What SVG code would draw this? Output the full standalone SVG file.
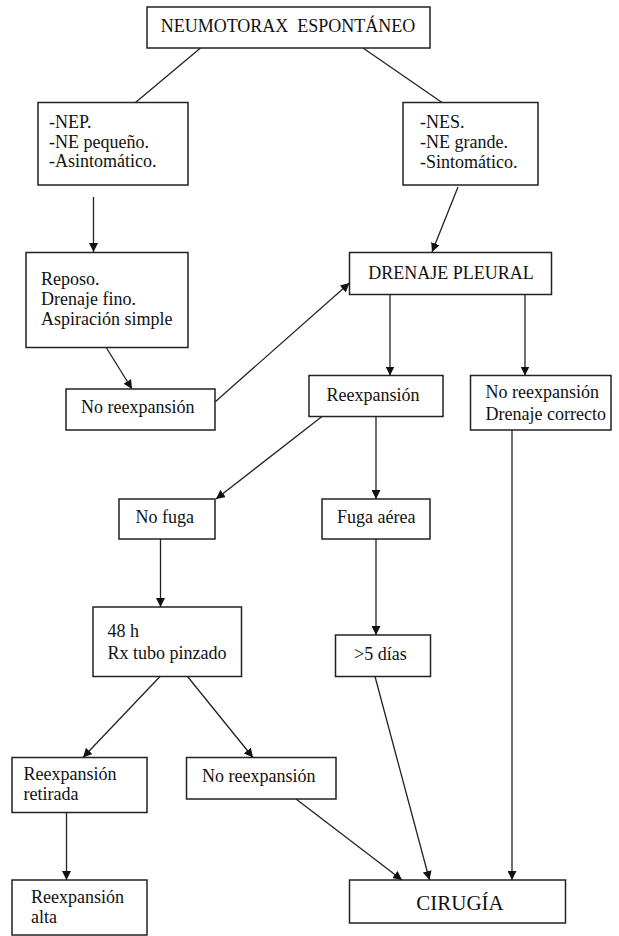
<svg xmlns="http://www.w3.org/2000/svg" width="619" height="936" viewBox="0 0 619 936">
<style>
.box{fill:#fff;stroke:#222;stroke-width:1.5}
.t{font-family:"Liberation Serif","Times New Roman",serif;font-size:18px;fill:#111}
.m{text-anchor:middle}
.c{fill:none;stroke:#222;stroke-width:1.3}
</style>
<defs>
<marker id="ah" viewBox="0 0 10 10" refX="10" refY="5" markerWidth="9" markerHeight="9" markerUnits="userSpaceOnUse" orient="auto">
<path d="M0,0 L10,5 L0,10 z" fill="#111"/>
</marker>
</defs>
<rect width="619" height="936" fill="#fff"/>
<g id="connectors">
<line class="c" x1="200.5" y1="48" x2="135.5" y2="102.5"/>
<line class="c" x1="363" y1="48" x2="442" y2="102.5"/>
<line class="c" x1="93.5" y1="197" x2="93.5" y2="252" marker-end="url(#ah)"/>
<line class="c" x1="458" y1="187" x2="432" y2="252" marker-end="url(#ah)"/>
<line class="c" x1="106.5" y1="348" x2="132" y2="389" marker-end="url(#ah)"/>
<line class="c" x1="215" y1="402" x2="349.5" y2="283" marker-end="url(#ah)"/>
<line class="c" x1="390" y1="294.5" x2="390" y2="375.5" marker-end="url(#ah)"/>
<line class="c" x1="525" y1="294.5" x2="525" y2="375.5" marker-end="url(#ah)"/>
<line class="c" x1="322" y1="416.5" x2="216" y2="499" marker-end="url(#ah)"/>
<line class="c" x1="376" y1="416.5" x2="376" y2="499" marker-end="url(#ah)"/>
<line class="c" x1="160.5" y1="539" x2="160.5" y2="607" marker-end="url(#ah)"/>
<line class="c" x1="376" y1="539" x2="376" y2="635" marker-end="url(#ah)"/>
<line class="c" x1="512" y1="430" x2="512" y2="880" marker-end="url(#ah)"/>
<line class="c" x1="160" y1="676.5" x2="83" y2="757.5" marker-end="url(#ah)"/>
<line class="c" x1="187.5" y1="676.5" x2="253" y2="757.5" marker-end="url(#ah)"/>
<line class="c" x1="375" y1="676.5" x2="429.5" y2="880" marker-end="url(#ah)"/>
<line class="c" x1="296" y1="799" x2="402" y2="880" marker-end="url(#ah)"/>
<line class="c" x1="66.5" y1="812.5" x2="66.5" y2="880" marker-end="url(#ah)"/>
</g>
<g id="n-top"><rect class="box" x="147" y="7" width="283" height="41"/><text class="t m" x="288" y="32" xml:space="preserve">NEUMOTORAX  ESPONTÁNEO</text></g>
<g id="n-nep"><rect class="box" x="38" y="102.5" width="150" height="82.5"/><text class="t" x="49" y="128">-NEP.</text><text class="t" x="49" y="148">-NE pequeño.</text><text class="t" x="49" y="167">-Asintomático.</text></g>
<g id="n-nes"><rect class="box" x="403" y="102.5" width="135" height="82.5"/><text class="t" x="420" y="128">-NES.</text><text class="t" x="420" y="148">-NE grande.</text><text class="t" x="420" y="168">-Sintomático.</text></g>
<g id="n-reposo"><rect class="box" x="26" y="252.5" width="162" height="95"/><text class="t" x="41" y="285">Reposo.</text><text class="t" x="41" y="305">Drenaje fino.</text><text class="t" x="41" y="325">Aspiración simple</text></g>
<g id="n-noreexp1"><rect class="box" x="66" y="389" width="149" height="41"/><text class="t" x="81" y="413">No reexpansión</text></g>
<g id="n-drenaje"><rect class="box" x="349.5" y="252.5" width="202" height="42"/><text class="t m" x="451" y="279">DRENAJE PLEURAL</text></g>
<g id="n-reexp"><rect class="box" x="309" y="375.5" width="134" height="41"/><text class="t m" x="373" y="401">Reexpansión</text></g>
<g id="n-noreexp-drenaje"><rect class="box" x="470.5" y="375.5" width="140.5" height="54.5"/><text class="t" x="485.5" y="398">No reexpansión</text><text class="t" x="485.5" y="420">Drenaje correcto</text></g>
<g id="n-nofuga"><rect class="box" x="119" y="499" width="96" height="40"/><text class="t" x="135.5" y="523">No fuga</text></g>
<g id="n-fuga"><rect class="box" x="322" y="499" width="108" height="40"/><text class="t" x="337" y="523">Fuga aérea</text></g>
<g id="n-48h"><rect class="box" x="93" y="607" width="148.5" height="69.5"/><text class="t" x="107.5" y="637">48 h</text><text class="t" x="107.5" y="659">Rx tubo pinzado</text></g>
<g id="n-5dias"><rect class="box" x="335.5" y="635" width="95" height="41.5"/><text class="t" x="354" y="660">&gt;5 días</text></g>
<g id="n-retirada"><rect class="box" x="12" y="757.5" width="135" height="55"/><text class="t" x="23.5" y="780">Reexpansión</text><text class="t" x="23.5" y="800">retirada</text></g>
<g id="n-noreexp2"><rect class="box" x="186.5" y="757.5" width="149.5" height="41.5"/><text class="t" x="202" y="782">No reexpansión</text></g>
<g id="n-alta"><rect class="box" x="12" y="880" width="135" height="55"/><text class="t" x="31" y="903">Reexpansión</text><text class="t" x="31" y="923">alta</text></g>
<g id="n-cirugia"><rect class="box" x="349.5" y="880" width="216" height="43"/><text class="t m" x="460" y="910" style="font-size:21px">CIRUGÍA</text></g>
</svg>
